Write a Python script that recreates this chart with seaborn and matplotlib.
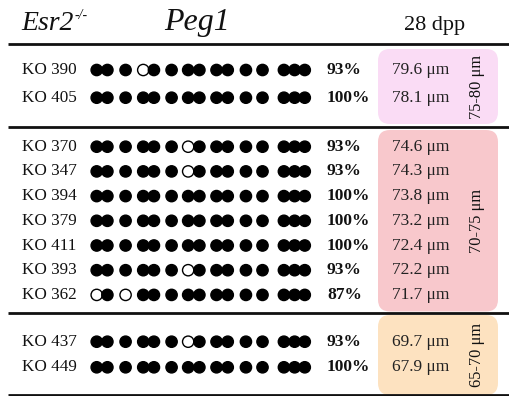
import matplotlib
matplotlib.use("Agg")
import matplotlib.pyplot as plt
from matplotlib.patches import FancyBboxPatch
import seaborn as sns
import pandas as pd

# ---- data -------------------------------------------------------------
clones = ["KO 390", "KO 405", "KO 370", "KO 347", "KO 394", "KO 379",
          "KO 411", "KO 393", "KO 362", "KO 437", "KO 449"]
# unmethylated CpG sites (1-based) in each clone
unmethylated = [[4], [], [7], [7], [], [], [], [7], [1, 3], [7], []]
# oocyte diameter of each clone
diameters = [79.6, 78.1, 74.6, 74.3, 73.8, 73.2, 72.4, 72.2, 71.7, 69.7, 67.9]
size_classes = ["75-80 μm", "70-75 μm", "65-70 μm"]
class_counts = [2, 7, 2]
# relative positions of the 15 CpG sites along the Peg1 amplicon
cpg_sites = [0, 1, 2.7, 4.35, 5.35, 7.0, 8.55, 9.6, 11.2, 12.25, 13.95,
             15.5, 17.5, 18.5, 19.45]

# ---- layout (pixel units of the canvas) -------------------------------
W, H = 510, 396
group_first_row = [70, 146.7, 341.7]
group_pitch = [27.7, 24.7, 25.6]
group_boxes = [(49, 124), (130, 311.5), (315, 395)]
box_colors = ["#fadcf5", "#f8c8cc", "#fde2c0"]
rule_y = [44, 127, 313, 395]

row_y = []
for first, pitch, n in zip(group_first_row, group_pitch, class_counts):
    row_y += [first + i * pitch for i in range(n)]

records = []
for clone, y, unm in zip(clones, row_y, unmethylated):
    for k, site in enumerate(cpg_sites, start=1):
        records.append({"clone": clone, "y": y, "site": site,
                        "methylated": "yes" if k not in unm else "no"})
df = pd.DataFrame(records)

sns.set_theme(style="white")
plt.rcParams["font.family"] = ["Liberation Serif", "DejaVu Serif"]

fig = plt.figure(figsize=(W / 100, H / 100), dpi=100)
ax = fig.add_axes([0, 0, 1, 1])
ax.set_xlim(0, W)
ax.set_ylim(H, 0)
ax.axis("off")

# size-class boxes
for (y0, y1), col, label in zip(group_boxes, box_colors, size_classes):
    ax.add_patch(FancyBboxPatch((378, y0), 120, y1 - y0,
                                boxstyle="round,pad=0,rounding_size=12",
                                facecolor=col, edgecolor="none", zorder=0))
    ax.text(477, (y0 + y1) / 2, label, rotation=90, ha="center",
            va="center", fontsize=11.8, color="#111111")

# horizontal rules
for y in rule_y:
    ax.plot([8, W], [y, y], color="#111111", lw=2.0, solid_capstyle="butt",
            zorder=3)

# header
gene_txt = ax.text(21, 30, "Esr2", fontsize=20, style="italic",
                   color="#111111", va="baseline")
fig.canvas.draw()
x_end = ax.transData.inverted().transform(
    (gene_txt.get_window_extent().x1, 0))[0]
ax.text(x_end + 1, 19, "-/-", fontsize=10, style="italic", color="#111111",
        va="baseline")
ax.text(164, 30, "Peg1", fontsize=23, style="italic", color="#111111",
        va="baseline")
ax.text(404, 30, "28 dpp", fontsize=16, color="#111111", va="baseline")

# row labels, methylation percentages and diameters
n_sites = len(cpg_sites)
for clone, y, unm, d in zip(clones, row_y, unmethylated, diameters):
    pct = round(100 * (n_sites - len(unm)) / n_sites)
    ax.text(22, y, clone, fontsize=12.3, va="center", color="#111111")
    ax.text(327, y, f"{pct}%", fontsize=12.5, fontweight="bold", va="center",
            color="#111111")
    ax.text(392, y, f"{d:.1f} μm", fontsize=12.5, va="center", color="#222222")

# CpG methylation circles
ax_dots = fig.add_axes([86 / W, 0, 230 / W, 1])
ax_dots.set_xlim(-1.0, 20.5)
ax_dots.set_ylim(H, 0)
sns.scatterplot(data=df, x="site", y="y", hue="methylated",
                palette={"yes": "black", "no": "white"}, edgecolor="black",
                linewidth=1.0, s=66, legend=False, ax=ax_dots, zorder=4)
ax_dots.axis("off")

fig.savefig("out.png", dpi=100)
